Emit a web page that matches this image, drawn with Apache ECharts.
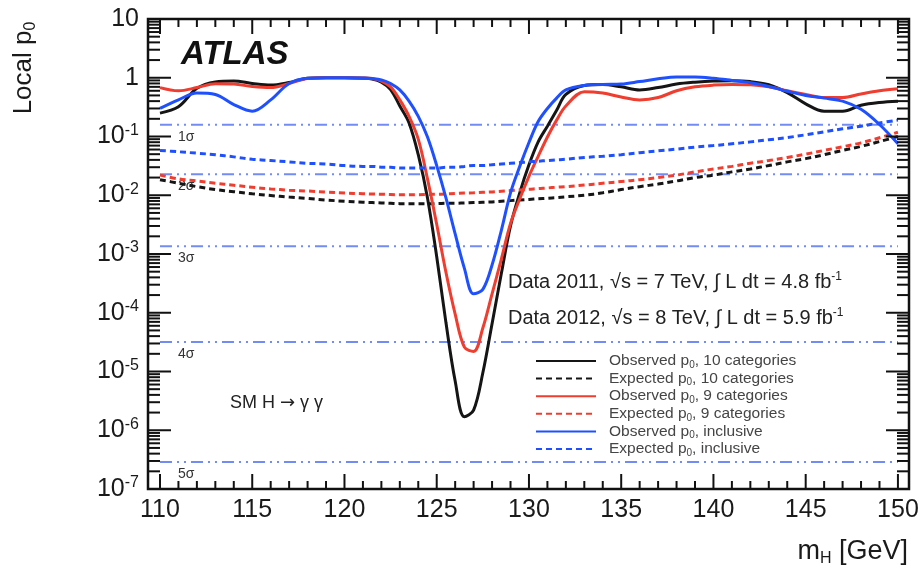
<!DOCTYPE html>
<html>
<head>
<meta charset="utf-8">
<script src="https://cdn.jsdelivr.net/npm/echarts@6.0.0/dist/echarts.min.js"></script>
<style>
  html, body { margin: 0; padding: 0; background: #fff; }
  #chart { width: 923px; height: 572px; }
</style>
</head>
<body>
<div id="chart"></div>
<script>
// Higgs mass hypotheses (GeV)
const mass = [110,111,112,113,114,115,116,117,118,119,120,121,
  121.5,122,122.5,123,123.5,124,124.5,125,125.5,126,126.5,127,127.5,128,128.5,129,129.5,130,130.5,131,131.5,
  132,133,134,135,136,137,138,139,140,141,142,143,144,145,146,147,148,149,150];

// Observed local p0, 10 categories
const obs10 = [0.25,0.32,0.66,0.85,0.88,0.80,0.75,0.83,0.98,1.0,1.0,0.98,
  0.95,0.84,0.63,0.33,0.17,0.049,0.009,9e-4,6.8e-5,6.9e-6,1.7e-6,2.2e-6,9.5e-6,6.5e-5,4.6e-4,3e-3,0.011,0.033,0.081,0.15,0.28,
  0.52,0.74,0.77,0.70,0.62,0.68,0.78,0.84,0.88,0.89,0.86,0.76,0.56,0.36,0.27,0.27,0.34,0.38,0.40];
// Expected local p0, 10 categories
const exp10 = [0.0184,0.016,0.014,0.0125,0.0115,0.0106,0.0099,0.0093,0.0088,0.0083,0.0079,0.0076,
  0.0075,0.0074,0.0073,0.0072,0.0072,0.0072,0.0072,0.0072,0.0073,0.0073,0.0074,0.0075,0.0076,0.0077,0.0079,0.0081,0.0083,0.0085,0.0087,0.0089,0.0091,
  0.0094,0.010,0.011,0.0125,0.014,0.0155,0.0175,0.020,0.022,0.025,0.028,0.032,0.037,0.042,0.049,0.058,0.068,0.082,0.10];
// Observed local p0, 9 categories
const obs9 = [0.68,0.60,0.68,0.79,0.78,0.71,0.68,0.80,0.97,1.0,1.0,0.99,
  0.97,0.88,0.70,0.42,0.22,0.09,0.019,0.0032,4.9e-4,9.5e-5,2.6e-5,2.2e-5,5.5e-5,2.1e-4,8.1e-4,3.3e-3,8.7e-3,0.021,0.046,0.098,0.19,
  0.33,0.58,0.55,0.47,0.42,0.46,0.60,0.70,0.75,0.77,0.76,0.70,0.60,0.52,0.46,0.46,0.53,0.60,0.65];
// Expected local p0, 9 categories
const exp9 = [0.022,0.019,0.0175,0.016,0.0148,0.0137,0.0128,0.0122,0.0118,0.0113,0.0109,0.0106,
  0.0105,0.0104,0.0103,0.0102,0.0102,0.0102,0.0103,0.0104,0.0105,0.0107,0.0109,0.011,0.0112,0.0114,0.0117,0.012,0.0123,0.0126,0.013,0.0133,0.0137,
  0.014,0.0149,0.016,0.0171,0.0184,0.020,0.022,0.025,0.028,0.031,0.035,0.039,0.044,0.05,0.058,0.067,0.078,0.095,0.118];
// Observed local p0, inclusive
const obsIncl = [0.30,0.42,0.55,0.52,0.35,0.27,0.42,0.80,0.98,1.0,1.0,0.99,
  0.97,0.92,0.80,0.62,0.40,0.22,0.098,0.032,0.009,0.0022,5.7e-4,2.1e-4,2.5e-4,6.5e-4,2.5e-3,0.011,0.031,0.079,0.18,0.30,0.45,
  0.62,0.74,0.77,0.78,0.86,0.96,1.03,1.03,0.98,0.90,0.82,0.71,0.59,0.50,0.45,0.40,0.29,0.16,0.075];
// Expected local p0, inclusive
const expIncl = [0.058,0.055,0.052,0.049,0.045,0.041,0.039,0.037,0.035,0.034,0.032,0.031,
  0.031,0.030,0.030,0.029,0.029,0.029,0.029,0.029,0.030,0.030,0.031,0.032,0.032,0.033,0.034,0.035,0.036,0.037,0.038,0.039,0.040,
  0.041,0.044,0.046,0.049,0.053,0.057,0.061,0.066,0.070,0.075,0.081,0.088,0.096,0.107,0.12,0.135,0.15,0.17,0.19];

// One-sided significance thresholds
const sigmaLabels = ['1σ','2σ','3σ','4σ','5σ'];
const sigmaP = [0.1587, 0.02275, 0.00135, 3.17e-5, 2.87e-7];

// Axis labels
const xTickLabels = [110,115,120,125,130,135,140,145,150];
const xRange = [109.35, 150.6];
const yRange = [1e-7, 10];

const FONT = "'Liberation Sans', Arial, Helvetica, sans-serif";
const BLACK = '#151515', RED = '#ef3d2f', BLUE = '#1f50ff', SIGMA = 'rgba(60,95,240,0.72)';

const pairs = arr => mass.map((m, i) => [m, arr[i]]);

function curve(name, arr, color, dashed) {
  return {
    name, type: 'line', data: pairs(arr), symbol: 'none', smooth: 0.35,
    lineStyle: { color, width: 3, type: dashed ? [6, 4] : 'solid' },
    itemStyle: { color }, z: 5, silent: true
  };
}

const seriesList = [];
sigmaP.forEach((p, i) => {
  seriesList.push({
    name: 'sigma' + (i + 1), type: 'line', silent: true, z: 2,
    symbol: 'circle', symbolSize: 0, showSymbol: true,
    lineStyle: { color: SIGMA, width: 2, type: [12, 5, 2, 5, 2, 5] },
    itemStyle: { color: 'transparent' },
    data: [
      { value: [110, p], label: { show: true, formatter: sigmaLabels[i], position: [18, 5],
          fontFamily: FONT, fontSize: 14, color: '#333' } },
      [150, p]
    ]
  });
});
seriesList.push(
  curve('Observed p0, 10 categories', obs10, BLACK, false),
  curve('Expected p0, 10 categories', exp10, BLACK, true),
  curve('Observed p0, 9 categories', obs9, RED, false),
  curve('Expected p0, 9 categories', exp9, RED, true),
  curve('Observed p0, inclusive', obsIncl, BLUE, false),
  curve('Expected p0, inclusive', expIncl, BLUE, true)
);

// Inward ticks on all four sides: 1 GeV steps along x, 1-9 x 10^k along y
const xTickVals = [];
for (let m = 110; m <= 150; m++) xTickVals.push(m);
const yTickVals = [];
for (let k = -7; k <= 0; k++) for (let j = 1; j <= 9; j++) yTickVals.push({ v: j * Math.pow(10, k), major: j === 1 });
yTickVals.push({ v: 10, major: true });

seriesList.push({
  type: 'custom', silent: true, z: 10, clip: false,
  data: [[130, 1]],
  renderItem(params, api) {
    const cs = params.coordSys;
    const L = cs.x, R = cs.x + cs.width, T = cs.y, B = cs.y + cs.height;
    const st = { stroke: '#111', lineWidth: 2 };
    const kids = [];
    xTickVals.forEach(m => {
      const px = api.coord([m, 1])[0];
      const len = m % 5 === 0 ? 15 : 8;
      kids.push({ type: 'line', shape: { x1: px, y1: B, x2: px, y2: B - len }, style: st });
      kids.push({ type: 'line', shape: { x1: px, y1: T, x2: px, y2: T + len }, style: st });
    });
    yTickVals.forEach(t => {
      const py = api.coord([130, t.v])[1];
      const len = t.major ? 23 : 12;
      kids.push({ type: 'line', shape: { x1: L, y1: py, x2: L + len, y2: py }, style: st });
      kids.push({ type: 'line', shape: { x1: R, y1: py, x2: R - len, y2: py }, style: st });
    });
    return { type: 'group', children: kids };
  }
});

const chart = echarts.init(document.getElementById('chart'), null, { renderer: 'canvas' });
chart.setOption({
  animation: false,
  backgroundColor: '#fff',
  grid: { left: 148, right: 14, top: 19, bottom: 83, show: true, borderColor: '#111', borderWidth: 2.5, backgroundColor: 'transparent' },
  xAxis: {
    type: 'value', min: xRange[0], max: xRange[1],
    axisLine: { show: false }, axisTick: { show: false }, splitLine: { show: false },
    axisLabel: {
      customValues: xTickLabels, margin: 9, fontFamily: FONT, fontSize: 25, color: '#1a1a1a',
      showMinLabel: true, showMaxLabel: true, hideOverlap: false
    }
  },
  yAxis: {
    type: 'log', logBase: 10, min: yRange[0], max: yRange[1],
    axisLine: { show: false }, axisTick: { show: false }, splitLine: { show: false },
    axisLabel: {
      margin: 9, fontFamily: FONT, fontSize: 25, color: '#1a1a1a',
      formatter(v) {
        const e = Math.round(Math.log10(v));
        if (e === 1) return '{b|10}';
        if (e === 0) return '{b|1}';
        return '{b|10}{s|' + e + '}';
      },
      rich: {
        b: { fontFamily: FONT, fontSize: 25, color: '#1a1a1a' },
        s: { fontFamily: FONT, fontSize: 16, color: '#1a1a1a', padding: [0, 0, 12, 0] }
      }
    }
  },
  legend: {
    data: ['Observed p0, 10 categories','Expected p0, 10 categories','Observed p0, 9 categories',
           'Expected p0, 9 categories','Observed p0, inclusive','Expected p0, inclusive'],
    orient: 'vertical', left: 535, top: 352, itemWidth: 60, itemHeight: 14, itemGap: -0.4,
    padding: 0, selectedMode: false,
    itemStyle: { opacity: 0 },
    formatter: name => name.replace('p0', 'p{sub|0}'),
    textStyle: {
      fontFamily: FONT, fontSize: 15.5, lineHeight: 15, color: '#454545', padding: [0, 0, 0, 8],
      rich: { sub: { fontFamily: FONT, fontSize: 10, lineHeight: 8, color: '#454545', padding: [8, 0, 0, 0] } }
    }
  },
  graphic: [
    { type: 'text', x: 24, y: 68, rotation: Math.PI / 2,
      style: { text: 'Local p{sub|0}', align: 'center', verticalAlign: 'middle',
        font: '26px ' + FONT, fill: '#1a1a1a',
        rich: { sub: { fontFamily: FONT, fontSize: 16, fill: '#1a1a1a', padding: [14, 0, 0, 0] } } } },
    { type: 'text', x: 908, y: 552,
      style: { text: 'm{sub|H} [GeV]', align: 'right', verticalAlign: 'middle',
        font: '27px ' + FONT, fill: '#1a1a1a',
        rich: { sub: { fontFamily: FONT, fontSize: 16, fill: '#1a1a1a', padding: [14, 0, 0, 0] } } } },
    { type: 'text', x: 181, y: 55,
      style: { text: 'ATLAS', align: 'left', verticalAlign: 'middle',
        font: 'italic bold 33px ' + FONT, fill: '#111' } },
    { type: 'text', x: 508, y: 282,
      style: { text: 'Data 2011, √s = 7 TeV, ∫ L dt = 4.8 fb{sup|-1}', align: 'left', verticalAlign: 'middle',
        font: '20px ' + FONT, fill: '#222',
        rich: { sup: { fontFamily: FONT, fontSize: 12, fill: '#222', padding: [0, 0, 11, 0] } } } },
    { type: 'text', x: 508, y: 318,
      style: { text: 'Data 2012, √s = 8 TeV, ∫ L dt = 5.9 fb{sup|-1}', align: 'left', verticalAlign: 'middle',
        font: '20px ' + FONT, fill: '#222',
        rich: { sup: { fontFamily: FONT, fontSize: 12, fill: '#222', padding: [0, 0, 11, 0] } } } },
    { type: 'text', x: 230, y: 403,
      style: { text: 'SM H {arr|→} γ γ', align: 'left', verticalAlign: 'middle',
        font: '18px ' + FONT, fill: '#222',
        rich: { arr: { fontFamily: "'DejaVu Sans', sans-serif", fontSize: 18, fill: '#222' } } } }
  ],
  series: seriesList
});
</script>
</body>
</html>
